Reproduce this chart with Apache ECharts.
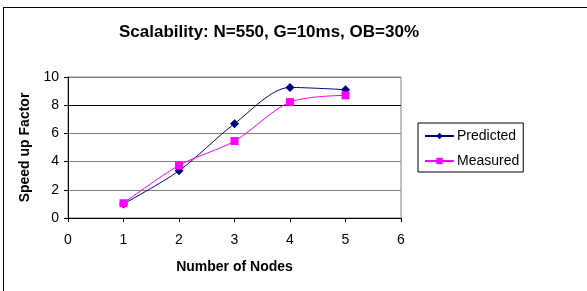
<!DOCTYPE html>
<html>
<head>
<meta charset="utf-8">
<script src="https://cdn.jsdelivr.net/npm/echarts@6/dist/echarts.min.js"></script>
<style>
    html, body { margin: 0; padding: 0; background: #fff; }
    #frame {
        position: absolute; left: 3px; top: 7px;
        width: 600px; height: 300px;
        border: 1px solid #000; box-sizing: border-box;
    }
    #chart { position: absolute; left: 0; top: 0; width: 587px; height: 291px; }
</style>
</head>
<body>
<div id="frame"></div>
<div id="chart"></div>
<script>
// data
const nodes = [1, 2, 3, 4, 5];
const predicted = [1.0, 3.35, 6.69, 9.26, 9.1];
const measured = [1.05, 3.73, 5.46, 8.22, 8.7];
const xTicks = [0, 1, 2, 3, 4, 5, 6];
const yTicks = [0, 2, 4, 6, 8, 10];

const font = 'Arial, "Liberation Sans", sans-serif';

const chart = echarts.init(document.getElementById('chart'));
chart.setOption({
    animation: false,
    textStyle: { fontFamily: font },
    title: {
        text: 'Scalability: N=550, G=10ms, OB=30%',
        left: 264, top: 19, textAlign: 'center',
        textStyle: { fontSize: 17, fontWeight: 'bold', color: '#000', fontFamily: font }
    },
    grid: { left: 68, right: 186, top: 77, bottom: 73, show: true, borderColor: '#808080', borderWidth: 1 },
    legend: {
        orient: 'vertical', left: 418, top: 123,
        width: 104, height: 49,
        borderColor: '#000', borderWidth: 1, padding: [6, 4, 4, 6],
        itemWidth: 29, itemHeight: 8, itemGap: 11,
        textStyle: { fontSize: 14, color: '#000', fontFamily: font, padding: [0, 0, 0, -2] },
        data: ['Predicted', 'Measured']
    },
    xAxis: {
        type: 'value', min: xTicks[0], max: xTicks[xTicks.length - 1], interval: 1,
        name: 'Number of Nodes', nameLocation: 'middle', nameGap: 42,
        nameTextStyle: { fontSize: 14, fontWeight: 'bold', color: '#000' },
        axisLine: { lineStyle: { color: '#000' } },
        axisTick: { inside: false, length: 4, lineStyle: { color: '#000' } },
        axisLabel: { fontSize: 14, color: '#000', margin: 15 },
        splitLine: { show: false }
    },
    yAxis: {
        type: 'value', min: yTicks[0], max: yTicks[yTicks.length - 1], interval: 2,
        name: 'Speed up Factor', nameLocation: 'middle', nameGap: 33,
        nameTextStyle: { fontSize: 14, fontWeight: 'bold', color: '#000' },
        axisLine: { show: true, lineStyle: { color: '#000' } },
        axisTick: { show: true, length: 4, lineStyle: { color: '#000' } },
        axisLabel: { fontSize: 14, color: '#000', margin: 9 },
        splitLine: { lineStyle: { color: ['#808080', '#808080', '#808080', '#808080', '#000', '#808080'], width: 1 } }
    },
    series: [
        {
            name: 'Predicted', type: 'line', smooth: 0.3,
            data: nodes.map((n, i) => [n, predicted[i]]),
            symbol: 'diamond', symbolSize: 9,
            itemStyle: { color: '#000080' },
            lineStyle: { color: '#000080', width: 1 }
        },
        {
            name: 'Measured', type: 'line', smooth: 0.3,
            data: nodes.map((n, i) => [n, measured[i]]),
            symbol: 'rect', symbolSize: 8,
            itemStyle: { color: '#FF00FF' },
            lineStyle: { color: '#FF00FF', width: 1 }
        }
    ]
});
</script>
</body>
</html>
